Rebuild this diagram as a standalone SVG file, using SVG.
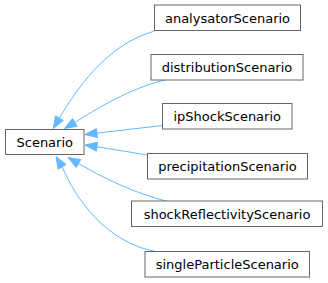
<svg xmlns="http://www.w3.org/2000/svg" width="328" height="283" viewBox="0 0 328 283">
<style>
.box{fill:#ffffff;stroke:#666666;stroke-width:1}
.lbl{font-family:"DejaVu Sans",sans-serif;font-size:13px;fill:#000000;text-anchor:middle}
.edge{fill:none;stroke:#63b8ff;stroke-width:1}
.ah{fill:#63b8ff;stroke:#63b8ff;stroke-width:1}
</style>
<rect width="328" height="283" fill="#ffffff"/>
<g id="connectors">
<path class="edge" d="M59.4,118.2 C75,92 105,45 154.5,31"/>
<polygon class="ah" points="53.3,128.5 63.3,120.5 55.5,115.9"/>
<path class="edge" d="M74.8,122.4 C95,110 130,88 165,80"/>
<polygon class="ah" points="64.5,128.5 77.1,126.3 72.5,118.5"/>
<path class="edge" d="M96.9,133.1 L162.5,125.5"/>
<polygon class="ah" points="85,134.5 97.4,137.6 96.4,128.6"/>
<path class="edge" d="M96.9,146.7 L147.5,155"/>
<polygon class="ah" points="85,145 96.3,151.2 97.5,142.2"/>
<path class="edge" d="M78.4,163.5 C100,176 135,194 170,202"/>
<polygon class="ah" points="68,157.5 76.2,167.4 80.7,159.6"/>
<path class="edge" d="M62.1,166.8 C75,197 105,243 158,252"/>
<polygon class="ah" points="56,156.5 58.2,169.1 66,164.5"/>
</g>
<g id="Scenario">
<rect class="box" x="5.5" y="129.5" width="78.5" height="25"/>
<text class="lbl" x="44.75" y="146.5">Scenario</text>
</g>
<g id="analysatorScenario">
<rect class="box" x="154.5" y="5" width="146" height="25.5"/>
<text class="lbl" x="227.5" y="22.5">analysatorScenario</text>
</g>
<g id="distributionScenario">
<rect class="box" x="151" y="54.5" width="152" height="25.5"/>
<text class="lbl" x="227" y="72">distributionScenario</text>
</g>
<g id="ipShockScenario">
<rect class="box" x="162.5" y="103.5" width="129.5" height="25.5"/>
<text class="lbl" x="227.25" y="121">ipShockScenario</text>
</g>
<g id="precipitationScenario">
<rect class="box" x="147.5" y="153.5" width="160" height="25.5"/>
<text class="lbl" x="227.5" y="171">precipitationScenario</text>
</g>
<g id="shockReflectivityScenario">
<rect class="box" x="131.5" y="201" width="191" height="25.5"/>
<text class="lbl" x="227" y="218.5">shockReflectivityScenario</text>
</g>
<g id="singleParticleScenario">
<rect class="box" x="145" y="251.5" width="164.5" height="25.5"/>
<text class="lbl" x="227.25" y="269">singleParticleScenario</text>
</g>
</svg>
